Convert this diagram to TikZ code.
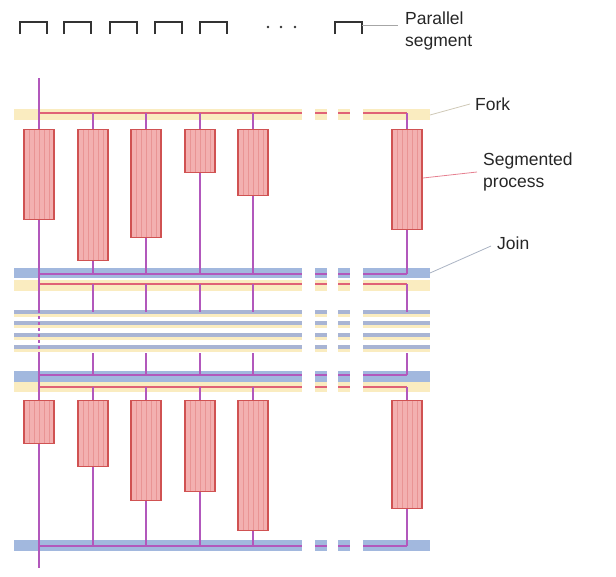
\documentclass[tikz,border=0pt]{standalone}
\usepackage{fontspec}
\setmainfont{Liberation Sans}
\usetikzlibrary{positioning}
\definecolor{forkyel}{RGB}{250,236,192}
\definecolor{joinblu}{RGB}{162,184,222}
\definecolor{threadpur}{RGB}{178,88,188}
\definecolor{forkred}{RGB}{224,98,118}
\definecolor{procfill}{RGB}{243,176,176}
\definecolor{procline}{RGB}{208,82,82}
\definecolor{midline}{RGB}{168,180,212}
\newcommand{\gapsegs}{14/302,315/327,338/350,363/430}
\newcommand{\linesegs}{39/302,315/327,338/350,363/407}

\begin{document}
\begin{tikzpicture}[x=1pt,y=-1pt,
  proc/.style={draw=procline,fill=procfill,line width=1.1pt,minimum width=30pt,
    inner sep=0pt,anchor=north,
    path picture={\foreach \s in {-10,-5,...,10}
      \draw[procline!30!procfill,line width=0.4pt]
        ([xshift=\s pt]path picture bounding box.north) --
        ([xshift=\s pt]path picture bounding box.south);}},
  thread/.style={threadpur,line width=1.4pt},
  forkline/.style={forkred,line width=1.3pt},
  leader/.style={line width=0.8pt},
  lbl/.style={font=\fontsize{17.5}{22}\selectfont,text=black!85,align=left,
    anchor=west,inner sep=0pt}]
  \useasboundingbox (0,0) rectangle (616,576);

  % Parallel segments along the top.
  \foreach \a in {20,64,110,155,200,335}
    \draw[black!80,line width=1.7pt] (\a,34) -- (\a,22) -- (\a+27,22) -- (\a+27,34);
  \foreach \a in {268,281,295}
    \fill[black!80] (\a,27) circle (1.4);
  \coordinate (segend) at (362,25);
  \coordinate (segtip) at (398,25);
  \node[lbl] (seglbl) at (405,31) {Parallel\\segment};
  \draw[leader,black!35] (segend) -- (segtip);

  % Fork and join bands (with the gaps).
  \foreach \a/\b in \gapsegs {
    \fill[forkyel] (\a,109) rectangle (\b,120);
    \fill[joinblu] (\a,268) rectangle (\b,278);
    \fill[forkyel] (\a,280) rectangle (\b,291);
    \fill[joinblu] (\a,371) rectangle (\b,382);
    \fill[forkyel] (\a,382) rectangle (\b,392);
    \fill[joinblu] (\a,540) rectangle (\b,551);
    \foreach \y in {312,323,335,347} {
      \draw[forkyel,line width=3pt] (\a,\y+3.5) -- (\b,\y+3.5);
      \draw[midline,line width=3.5pt] (\a,\y) -- (\b,\y);
    }
  }
  \foreach \a/\b in \linesegs {
    \draw[forkline] (\a,113) -- (\b,113);
    \draw[thread] (\a,274) -- (\b,274);
    \draw[forkline] (\a,284) -- (\b,284);
    \draw[thread] (\a,375) -- (\b,375);
    \draw[forkline] (\a,387) -- (\b,387);
    \draw[thread] (\a,546) -- (\b,546);
  }

  % Master thread.
  \draw[thread] (39,78) -- (39,298);
  \draw[thread,dashed] (39,298) -- (39,353);
  \draw[thread] (39,353) -- (39,568);

  % Segmented processes, upper and lower part.
  \foreach \n/\x/\h/\g in {1/39/90/43, 2/93/131/66, 3/146/108/100,
                           4/200/43/91, 5/253/66/130, 6/407/100/108} {
    \draw[thread] (\x,113) -- (\x,274);
    \draw[thread] (\x,284) -- (\x,312);
    \draw[thread] (\x,353) -- (\x,375);
    \draw[thread] (\x,387) -- (\x,546);
    \node[proc,minimum height=\h pt] (up\n) at (\x,129) {};
    \node[proc,minimum height=\g pt] (lo\n) at (\x,400) {};
  }

  % Labels on the right.
  \coordinate (forkend) at (430,115);
  \coordinate (joinend) at (430,273);
  \coordinate (procend) at (423,178);
  \node[lbl] (forklbl) at (475,104) {Fork};
  \node[lbl] (proclbl) at (483,172) {Segmented\\process};
  \node[lbl] (joinlbl) at (497,243) {Join};
  \draw[leader,forkyel!70!black!60] (forkend) -- ([xshift=-5pt]forklbl.west);
  \draw[leader,forkred!80] (procend) -- ([xshift=-6pt]proclbl.west);
  \draw[leader,joinblu!70!black!60] (joinend) -- ([xshift=-6pt,yshift=-3pt]joinlbl.west);
\end{tikzpicture}
\end{document}
